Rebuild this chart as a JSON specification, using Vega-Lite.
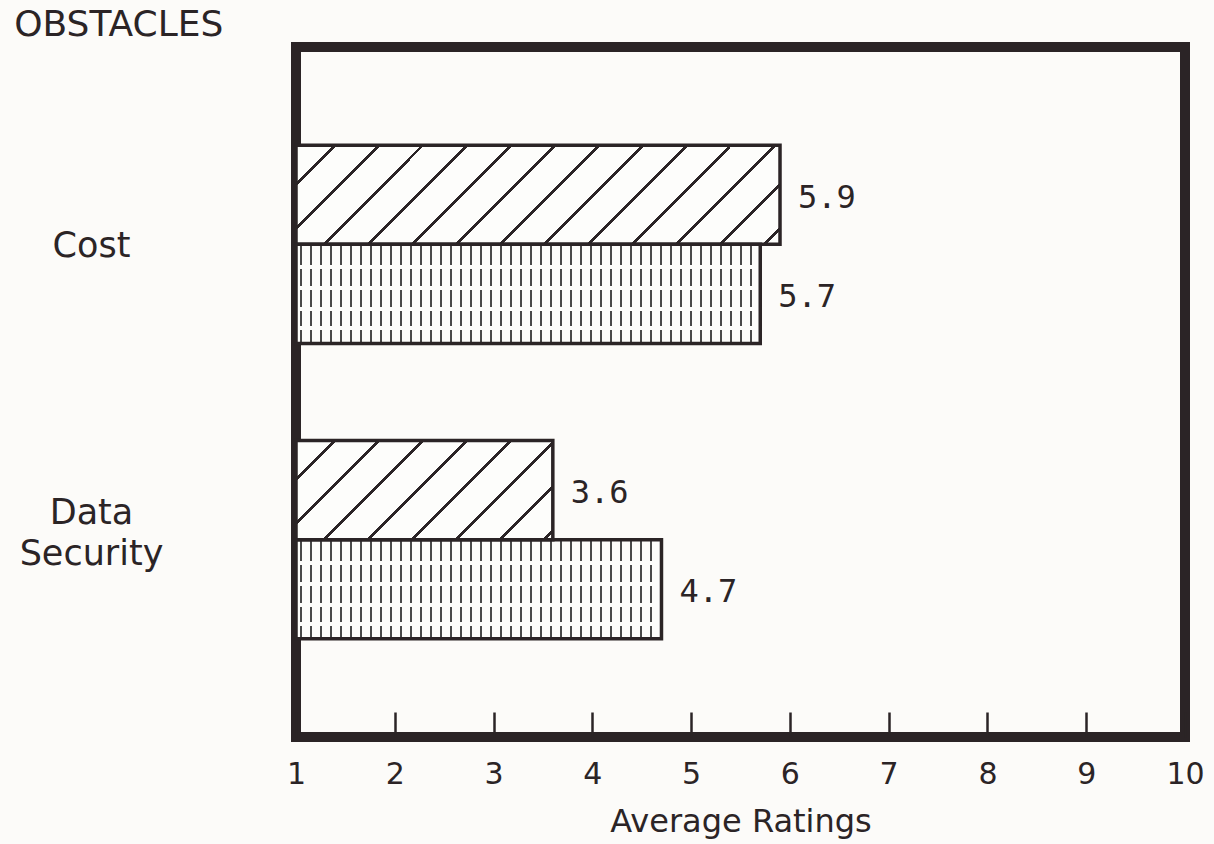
{
  "$schema": "https://vega.github.io/schema/vega-lite/v6.json",
  "width": 889,
  "height": 690,
  "autosize": {"type": "none"},
  "padding": {"left": 296, "top": 47, "right": 29, "bottom": 107},
  "background": "#fcfbf9",
  "title": {"text": "OBSTACLES", "anchor": "start", "frame": "bounds", "font": "DejaVu Sans", "fontSize": 36, "fontWeight": "normal", "color": "#2b2426", "offset": 3, "dx": -5},
  "config": {
    "view": {"stroke": "#2b2426", "strokeWidth": 10},
    "axis": {"grid": false, "domain": false, "labelColor": "#2b2426", "titleColor": "#2b2426", "labelFont": "DejaVu Sans", "titleFont": "DejaVu Sans", "titleFontWeight": "normal"}
  },
  "data": {"values": [
    {"obstacle": "Cost", "group": "A", "rating": 5.9},
    {"obstacle": "Cost", "group": "B", "rating": 5.7},
    {"obstacle": "Data Security", "group": "A", "rating": 3.6},
    {"obstacle": "Data Security", "group": "B", "rating": 4.7}
  ]},
  "encoding": {
    "y": {"field": "obstacle", "type": "nominal", "sort": ["Cost", "Data Security"],
      "scale": {"paddingInner": 0, "paddingOuter": 0.168},
      "axis": {"title": null, "ticks": false, "labelFontSize": 35, "labelAlign": "center", "labelBaseline": "middle", "labelPadding": 205, "labelLineHeight": 41,
        "labelOffset": {"condition": {"test": "datum.value == 'Data Security'", "value": -27}, "value": 2},
        "labelExpr": "datum.label == 'Data Security' ? ['Data', 'Security'] : datum.label"}},
    "yOffset": {"field": "group", "type": "nominal", "scale": {"paddingInner": 0, "paddingOuter": 0.49}},
    "x": {"field": "rating", "type": "quantitative", "scale": {"domain": [1, 10], "zero": false, "nice": false},
      "axis": {"values": [1, 2, 3, 4, 5, 6, 7, 8, 9, 10], "title": "Average Ratings", "titleFontSize": 32, "titlePadding": 17, "labelFontSize": 30, "labelFlush": false, "labelPadding": 47, "tickSize": -25, "tickWidth": 2.5, "tickColor": "#2b2426"}}
  },
  "layer": [
    {
      "mark": {"type": "bar", "strokeWidth": 0},
      "encoding": {
        "x2": {"datum": 1},
        "fill": {
          "condition": [
            {"test": "datum.obstacle == 'Cost' && datum.group == 'A'", "value": {"gradient": "linear", "x1": 0, "y1": 0, "x2": 1.1562, "y2": 0.2365, "stops": [
              {"offset": 0, "color": "#fdfdfb"},
              {"offset": 0.0638, "color": "#fdfdfb"}, {"offset": 0.0638, "color": "#2b2426"}, {"offset": 0.0700, "color": "#2b2426"}, {"offset": 0.0700, "color": "#fdfdfb"},
              {"offset": 0.1393, "color": "#fdfdfb"}, {"offset": 0.1393, "color": "#2b2426"}, {"offset": 0.1455, "color": "#2b2426"}, {"offset": 0.1455, "color": "#fdfdfb"},
              {"offset": 0.2147, "color": "#fdfdfb"}, {"offset": 0.2147, "color": "#2b2426"}, {"offset": 0.2209, "color": "#2b2426"}, {"offset": 0.2209, "color": "#fdfdfb"},
              {"offset": 0.2902, "color": "#fdfdfb"}, {"offset": 0.2902, "color": "#2b2426"}, {"offset": 0.2964, "color": "#2b2426"}, {"offset": 0.2964, "color": "#fdfdfb"},
              {"offset": 0.3657, "color": "#fdfdfb"}, {"offset": 0.3657, "color": "#2b2426"}, {"offset": 0.3719, "color": "#2b2426"}, {"offset": 0.3719, "color": "#fdfdfb"},
              {"offset": 0.4412, "color": "#fdfdfb"}, {"offset": 0.4412, "color": "#2b2426"}, {"offset": 0.4474, "color": "#2b2426"}, {"offset": 0.4474, "color": "#fdfdfb"},
              {"offset": 0.5166, "color": "#fdfdfb"}, {"offset": 0.5166, "color": "#2b2426"}, {"offset": 0.5228, "color": "#2b2426"}, {"offset": 0.5228, "color": "#fdfdfb"},
              {"offset": 0.5921, "color": "#fdfdfb"}, {"offset": 0.5921, "color": "#2b2426"}, {"offset": 0.5983, "color": "#2b2426"}, {"offset": 0.5983, "color": "#fdfdfb"},
              {"offset": 0.6676, "color": "#fdfdfb"}, {"offset": 0.6676, "color": "#2b2426"}, {"offset": 0.6738, "color": "#2b2426"}, {"offset": 0.6738, "color": "#fdfdfb"},
              {"offset": 0.7430, "color": "#fdfdfb"}, {"offset": 0.7430, "color": "#2b2426"}, {"offset": 0.7492, "color": "#2b2426"}, {"offset": 0.7492, "color": "#fdfdfb"},
              {"offset": 0.8185, "color": "#fdfdfb"}, {"offset": 0.8185, "color": "#2b2426"}, {"offset": 0.8247, "color": "#2b2426"}, {"offset": 0.8247, "color": "#fdfdfb"},
              {"offset": 0.8940, "color": "#fdfdfb"}, {"offset": 0.8940, "color": "#2b2426"}, {"offset": 0.9002, "color": "#2b2426"}, {"offset": 0.9002, "color": "#fdfdfb"},
              {"offset": 0.9695, "color": "#fdfdfb"}, {"offset": 0.9695, "color": "#2b2426"}, {"offset": 0.9757, "color": "#2b2426"}, {"offset": 0.9757, "color": "#fdfdfb"},
              {"offset": 1, "color": "#fdfdfb"}
            ]}},
            {"test": "datum.obstacle == 'Data Security' && datum.group == 'A'", "value": {"gradient": "linear", "x1": 0, "y1": 0, "x2": 1.2063, "y2": 0.4650, "stops": [
              {"offset": 0, "color": "#fdfdfb"},
              {"offset": 0.1045, "color": "#fdfdfb"}, {"offset": 0.1045, "color": "#2b2426"}, {"offset": 0.1147, "color": "#2b2426"}, {"offset": 0.1147, "color": "#fdfdfb"},
              {"offset": 0.2282, "color": "#fdfdfb"}, {"offset": 0.2282, "color": "#2b2426"}, {"offset": 0.2384, "color": "#2b2426"}, {"offset": 0.2384, "color": "#fdfdfb"},
              {"offset": 0.3518, "color": "#fdfdfb"}, {"offset": 0.3518, "color": "#2b2426"}, {"offset": 0.3620, "color": "#2b2426"}, {"offset": 0.3620, "color": "#fdfdfb"},
              {"offset": 0.4755, "color": "#fdfdfb"}, {"offset": 0.4755, "color": "#2b2426"}, {"offset": 0.4857, "color": "#2b2426"}, {"offset": 0.4857, "color": "#fdfdfb"},
              {"offset": 0.5992, "color": "#fdfdfb"}, {"offset": 0.5992, "color": "#2b2426"}, {"offset": 0.6094, "color": "#2b2426"}, {"offset": 0.6094, "color": "#fdfdfb"},
              {"offset": 0.7228, "color": "#fdfdfb"}, {"offset": 0.7228, "color": "#2b2426"}, {"offset": 0.7330, "color": "#2b2426"}, {"offset": 0.7330, "color": "#fdfdfb"},
              {"offset": 0.8465, "color": "#fdfdfb"}, {"offset": 0.8465, "color": "#2b2426"}, {"offset": 0.8567, "color": "#2b2426"}, {"offset": 0.8567, "color": "#fdfdfb"},
              {"offset": 0.9702, "color": "#fdfdfb"}, {"offset": 0.9702, "color": "#2b2426"}, {"offset": 0.9804, "color": "#2b2426"}, {"offset": 0.9804, "color": "#fdfdfb"},
              {"offset": 1, "color": "#fdfdfb"}
            ]}},
            {"test": "datum.obstacle == 'Cost' && datum.group == 'B'", "value": {"gradient": "linear", "x1": 0, "y1": 0, "x2": 1, "y2": 0, "stops": [
              {"offset": 0, "color": "#fdfdfb"},
              {"offset": 0.0091, "color": "#fdfdfb"}, {"offset": 0.0091, "color": "#4a4a4a"}, {"offset": 0.0125, "color": "#4a4a4a"}, {"offset": 0.0125, "color": "#fdfdfb"},
              {"offset": 0.0306, "color": "#fdfdfb"}, {"offset": 0.0306, "color": "#4a4a4a"}, {"offset": 0.0340, "color": "#4a4a4a"}, {"offset": 0.0340, "color": "#fdfdfb"},
              {"offset": 0.0521, "color": "#fdfdfb"}, {"offset": 0.0521, "color": "#4a4a4a"}, {"offset": 0.0555, "color": "#4a4a4a"}, {"offset": 0.0555, "color": "#fdfdfb"},
              {"offset": 0.0737, "color": "#fdfdfb"}, {"offset": 0.0737, "color": "#4a4a4a"}, {"offset": 0.0771, "color": "#4a4a4a"}, {"offset": 0.0771, "color": "#fdfdfb"},
              {"offset": 0.0952, "color": "#fdfdfb"}, {"offset": 0.0952, "color": "#4a4a4a"}, {"offset": 0.0986, "color": "#4a4a4a"}, {"offset": 0.0986, "color": "#fdfdfb"},
              {"offset": 0.1168, "color": "#fdfdfb"}, {"offset": 0.1168, "color": "#4a4a4a"}, {"offset": 0.1202, "color": "#4a4a4a"}, {"offset": 0.1202, "color": "#fdfdfb"},
              {"offset": 0.1383, "color": "#fdfdfb"}, {"offset": 0.1383, "color": "#4a4a4a"}, {"offset": 0.1417, "color": "#4a4a4a"}, {"offset": 0.1417, "color": "#fdfdfb"},
              {"offset": 0.1598, "color": "#fdfdfb"}, {"offset": 0.1598, "color": "#4a4a4a"}, {"offset": 0.1632, "color": "#4a4a4a"}, {"offset": 0.1632, "color": "#fdfdfb"},
              {"offset": 0.1814, "color": "#fdfdfb"}, {"offset": 0.1814, "color": "#4a4a4a"}, {"offset": 0.1848, "color": "#4a4a4a"}, {"offset": 0.1848, "color": "#fdfdfb"},
              {"offset": 0.2029, "color": "#fdfdfb"}, {"offset": 0.2029, "color": "#4a4a4a"}, {"offset": 0.2063, "color": "#4a4a4a"}, {"offset": 0.2063, "color": "#fdfdfb"},
              {"offset": 0.2245, "color": "#fdfdfb"}, {"offset": 0.2245, "color": "#4a4a4a"}, {"offset": 0.2279, "color": "#4a4a4a"}, {"offset": 0.2279, "color": "#fdfdfb"},
              {"offset": 0.2460, "color": "#fdfdfb"}, {"offset": 0.2460, "color": "#4a4a4a"}, {"offset": 0.2494, "color": "#4a4a4a"}, {"offset": 0.2494, "color": "#fdfdfb"},
              {"offset": 0.2675, "color": "#fdfdfb"}, {"offset": 0.2675, "color": "#4a4a4a"}, {"offset": 0.2709, "color": "#4a4a4a"}, {"offset": 0.2709, "color": "#fdfdfb"},
              {"offset": 0.2891, "color": "#fdfdfb"}, {"offset": 0.2891, "color": "#4a4a4a"}, {"offset": 0.2925, "color": "#4a4a4a"}, {"offset": 0.2925, "color": "#fdfdfb"},
              {"offset": 0.3106, "color": "#fdfdfb"}, {"offset": 0.3106, "color": "#4a4a4a"}, {"offset": 0.3140, "color": "#4a4a4a"}, {"offset": 0.3140, "color": "#fdfdfb"},
              {"offset": 0.3322, "color": "#fdfdfb"}, {"offset": 0.3322, "color": "#4a4a4a"}, {"offset": 0.3356, "color": "#4a4a4a"}, {"offset": 0.3356, "color": "#fdfdfb"},
              {"offset": 0.3537, "color": "#fdfdfb"}, {"offset": 0.3537, "color": "#4a4a4a"}, {"offset": 0.3571, "color": "#4a4a4a"}, {"offset": 0.3571, "color": "#fdfdfb"},
              {"offset": 0.3752, "color": "#fdfdfb"}, {"offset": 0.3752, "color": "#4a4a4a"}, {"offset": 0.3786, "color": "#4a4a4a"}, {"offset": 0.3786, "color": "#fdfdfb"},
              {"offset": 0.3968, "color": "#fdfdfb"}, {"offset": 0.3968, "color": "#4a4a4a"}, {"offset": 0.4002, "color": "#4a4a4a"}, {"offset": 0.4002, "color": "#fdfdfb"},
              {"offset": 0.4183, "color": "#fdfdfb"}, {"offset": 0.4183, "color": "#4a4a4a"}, {"offset": 0.4217, "color": "#4a4a4a"}, {"offset": 0.4217, "color": "#fdfdfb"},
              {"offset": 0.4399, "color": "#fdfdfb"}, {"offset": 0.4399, "color": "#4a4a4a"}, {"offset": 0.4433, "color": "#4a4a4a"}, {"offset": 0.4433, "color": "#fdfdfb"},
              {"offset": 0.4614, "color": "#fdfdfb"}, {"offset": 0.4614, "color": "#4a4a4a"}, {"offset": 0.4648, "color": "#4a4a4a"}, {"offset": 0.4648, "color": "#fdfdfb"},
              {"offset": 0.4829, "color": "#fdfdfb"}, {"offset": 0.4829, "color": "#4a4a4a"}, {"offset": 0.4863, "color": "#4a4a4a"}, {"offset": 0.4863, "color": "#fdfdfb"},
              {"offset": 0.5045, "color": "#fdfdfb"}, {"offset": 0.5045, "color": "#4a4a4a"}, {"offset": 0.5079, "color": "#4a4a4a"}, {"offset": 0.5079, "color": "#fdfdfb"},
              {"offset": 0.5260, "color": "#fdfdfb"}, {"offset": 0.5260, "color": "#4a4a4a"}, {"offset": 0.5294, "color": "#4a4a4a"}, {"offset": 0.5294, "color": "#fdfdfb"},
              {"offset": 0.5476, "color": "#fdfdfb"}, {"offset": 0.5476, "color": "#4a4a4a"}, {"offset": 0.5510, "color": "#4a4a4a"}, {"offset": 0.5510, "color": "#fdfdfb"},
              {"offset": 0.5691, "color": "#fdfdfb"}, {"offset": 0.5691, "color": "#4a4a4a"}, {"offset": 0.5725, "color": "#4a4a4a"}, {"offset": 0.5725, "color": "#fdfdfb"},
              {"offset": 0.5906, "color": "#fdfdfb"}, {"offset": 0.5906, "color": "#4a4a4a"}, {"offset": 0.5940, "color": "#4a4a4a"}, {"offset": 0.5940, "color": "#fdfdfb"},
              {"offset": 0.6122, "color": "#fdfdfb"}, {"offset": 0.6122, "color": "#4a4a4a"}, {"offset": 0.6156, "color": "#4a4a4a"}, {"offset": 0.6156, "color": "#fdfdfb"},
              {"offset": 0.6337, "color": "#fdfdfb"}, {"offset": 0.6337, "color": "#4a4a4a"}, {"offset": 0.6371, "color": "#4a4a4a"}, {"offset": 0.6371, "color": "#fdfdfb"},
              {"offset": 0.6553, "color": "#fdfdfb"}, {"offset": 0.6553, "color": "#4a4a4a"}, {"offset": 0.6587, "color": "#4a4a4a"}, {"offset": 0.6587, "color": "#fdfdfb"},
              {"offset": 0.6768, "color": "#fdfdfb"}, {"offset": 0.6768, "color": "#4a4a4a"}, {"offset": 0.6802, "color": "#4a4a4a"}, {"offset": 0.6802, "color": "#fdfdfb"},
              {"offset": 0.6983, "color": "#fdfdfb"}, {"offset": 0.6983, "color": "#4a4a4a"}, {"offset": 0.7017, "color": "#4a4a4a"}, {"offset": 0.7017, "color": "#fdfdfb"},
              {"offset": 0.7199, "color": "#fdfdfb"}, {"offset": 0.7199, "color": "#4a4a4a"}, {"offset": 0.7233, "color": "#4a4a4a"}, {"offset": 0.7233, "color": "#fdfdfb"},
              {"offset": 0.7414, "color": "#fdfdfb"}, {"offset": 0.7414, "color": "#4a4a4a"}, {"offset": 0.7448, "color": "#4a4a4a"}, {"offset": 0.7448, "color": "#fdfdfb"},
              {"offset": 0.7630, "color": "#fdfdfb"}, {"offset": 0.7630, "color": "#4a4a4a"}, {"offset": 0.7664, "color": "#4a4a4a"}, {"offset": 0.7664, "color": "#fdfdfb"},
              {"offset": 0.7845, "color": "#fdfdfb"}, {"offset": 0.7845, "color": "#4a4a4a"}, {"offset": 0.7879, "color": "#4a4a4a"}, {"offset": 0.7879, "color": "#fdfdfb"},
              {"offset": 0.8060, "color": "#fdfdfb"}, {"offset": 0.8060, "color": "#4a4a4a"}, {"offset": 0.8094, "color": "#4a4a4a"}, {"offset": 0.8094, "color": "#fdfdfb"},
              {"offset": 0.8276, "color": "#fdfdfb"}, {"offset": 0.8276, "color": "#4a4a4a"}, {"offset": 0.8310, "color": "#4a4a4a"}, {"offset": 0.8310, "color": "#fdfdfb"},
              {"offset": 0.8491, "color": "#fdfdfb"}, {"offset": 0.8491, "color": "#4a4a4a"}, {"offset": 0.8525, "color": "#4a4a4a"}, {"offset": 0.8525, "color": "#fdfdfb"},
              {"offset": 0.8707, "color": "#fdfdfb"}, {"offset": 0.8707, "color": "#4a4a4a"}, {"offset": 0.8741, "color": "#4a4a4a"}, {"offset": 0.8741, "color": "#fdfdfb"},
              {"offset": 0.8922, "color": "#fdfdfb"}, {"offset": 0.8922, "color": "#4a4a4a"}, {"offset": 0.8956, "color": "#4a4a4a"}, {"offset": 0.8956, "color": "#fdfdfb"},
              {"offset": 0.9137, "color": "#fdfdfb"}, {"offset": 0.9137, "color": "#4a4a4a"}, {"offset": 0.9171, "color": "#4a4a4a"}, {"offset": 0.9171, "color": "#fdfdfb"},
              {"offset": 0.9353, "color": "#fdfdfb"}, {"offset": 0.9353, "color": "#4a4a4a"}, {"offset": 0.9387, "color": "#4a4a4a"}, {"offset": 0.9387, "color": "#fdfdfb"},
              {"offset": 0.9568, "color": "#fdfdfb"}, {"offset": 0.9568, "color": "#4a4a4a"}, {"offset": 0.9602, "color": "#4a4a4a"}, {"offset": 0.9602, "color": "#fdfdfb"},
              {"offset": 0.9784, "color": "#fdfdfb"}, {"offset": 0.9784, "color": "#4a4a4a"}, {"offset": 0.9818, "color": "#4a4a4a"}, {"offset": 0.9818, "color": "#fdfdfb"},
              {"offset": 1, "color": "#fdfdfb"}
            ]}},
            {"test": "datum.obstacle == 'Data Security' && datum.group == 'B'", "value": {"gradient": "linear", "x1": 0, "y1": 0, "x2": 1, "y2": 0, "stops": [
              {"offset": 0, "color": "#fdfdfb"},
              {"offset": 0.0115, "color": "#fdfdfb"}, {"offset": 0.0115, "color": "#4a4a4a"}, {"offset": 0.0159, "color": "#4a4a4a"}, {"offset": 0.0159, "color": "#fdfdfb"},
              {"offset": 0.0388, "color": "#fdfdfb"}, {"offset": 0.0388, "color": "#4a4a4a"}, {"offset": 0.0432, "color": "#4a4a4a"}, {"offset": 0.0432, "color": "#fdfdfb"},
              {"offset": 0.0662, "color": "#fdfdfb"}, {"offset": 0.0662, "color": "#4a4a4a"}, {"offset": 0.0706, "color": "#4a4a4a"}, {"offset": 0.0706, "color": "#fdfdfb"},
              {"offset": 0.0936, "color": "#fdfdfb"}, {"offset": 0.0936, "color": "#4a4a4a"}, {"offset": 0.0980, "color": "#4a4a4a"}, {"offset": 0.0980, "color": "#fdfdfb"},
              {"offset": 0.1209, "color": "#fdfdfb"}, {"offset": 0.1209, "color": "#4a4a4a"}, {"offset": 0.1253, "color": "#4a4a4a"}, {"offset": 0.1253, "color": "#fdfdfb"},
              {"offset": 0.1483, "color": "#fdfdfb"}, {"offset": 0.1483, "color": "#4a4a4a"}, {"offset": 0.1527, "color": "#4a4a4a"}, {"offset": 0.1527, "color": "#fdfdfb"},
              {"offset": 0.1757, "color": "#fdfdfb"}, {"offset": 0.1757, "color": "#4a4a4a"}, {"offset": 0.1801, "color": "#4a4a4a"}, {"offset": 0.1801, "color": "#fdfdfb"},
              {"offset": 0.2030, "color": "#fdfdfb"}, {"offset": 0.2030, "color": "#4a4a4a"}, {"offset": 0.2074, "color": "#4a4a4a"}, {"offset": 0.2074, "color": "#fdfdfb"},
              {"offset": 0.2304, "color": "#fdfdfb"}, {"offset": 0.2304, "color": "#4a4a4a"}, {"offset": 0.2348, "color": "#4a4a4a"}, {"offset": 0.2348, "color": "#fdfdfb"},
              {"offset": 0.2577, "color": "#fdfdfb"}, {"offset": 0.2577, "color": "#4a4a4a"}, {"offset": 0.2621, "color": "#4a4a4a"}, {"offset": 0.2621, "color": "#fdfdfb"},
              {"offset": 0.2851, "color": "#fdfdfb"}, {"offset": 0.2851, "color": "#4a4a4a"}, {"offset": 0.2895, "color": "#4a4a4a"}, {"offset": 0.2895, "color": "#fdfdfb"},
              {"offset": 0.3125, "color": "#fdfdfb"}, {"offset": 0.3125, "color": "#4a4a4a"}, {"offset": 0.3169, "color": "#4a4a4a"}, {"offset": 0.3169, "color": "#fdfdfb"},
              {"offset": 0.3398, "color": "#fdfdfb"}, {"offset": 0.3398, "color": "#4a4a4a"}, {"offset": 0.3442, "color": "#4a4a4a"}, {"offset": 0.3442, "color": "#fdfdfb"},
              {"offset": 0.3672, "color": "#fdfdfb"}, {"offset": 0.3672, "color": "#4a4a4a"}, {"offset": 0.3716, "color": "#4a4a4a"}, {"offset": 0.3716, "color": "#fdfdfb"},
              {"offset": 0.3945, "color": "#fdfdfb"}, {"offset": 0.3945, "color": "#4a4a4a"}, {"offset": 0.3989, "color": "#4a4a4a"}, {"offset": 0.3989, "color": "#fdfdfb"},
              {"offset": 0.4219, "color": "#fdfdfb"}, {"offset": 0.4219, "color": "#4a4a4a"}, {"offset": 0.4263, "color": "#4a4a4a"}, {"offset": 0.4263, "color": "#fdfdfb"},
              {"offset": 0.4493, "color": "#fdfdfb"}, {"offset": 0.4493, "color": "#4a4a4a"}, {"offset": 0.4537, "color": "#4a4a4a"}, {"offset": 0.4537, "color": "#fdfdfb"},
              {"offset": 0.4766, "color": "#fdfdfb"}, {"offset": 0.4766, "color": "#4a4a4a"}, {"offset": 0.4810, "color": "#4a4a4a"}, {"offset": 0.4810, "color": "#fdfdfb"},
              {"offset": 0.5040, "color": "#fdfdfb"}, {"offset": 0.5040, "color": "#4a4a4a"}, {"offset": 0.5084, "color": "#4a4a4a"}, {"offset": 0.5084, "color": "#fdfdfb"},
              {"offset": 0.5313, "color": "#fdfdfb"}, {"offset": 0.5313, "color": "#4a4a4a"}, {"offset": 0.5357, "color": "#4a4a4a"}, {"offset": 0.5357, "color": "#fdfdfb"},
              {"offset": 0.5587, "color": "#fdfdfb"}, {"offset": 0.5587, "color": "#4a4a4a"}, {"offset": 0.5631, "color": "#4a4a4a"}, {"offset": 0.5631, "color": "#fdfdfb"},
              {"offset": 0.5861, "color": "#fdfdfb"}, {"offset": 0.5861, "color": "#4a4a4a"}, {"offset": 0.5905, "color": "#4a4a4a"}, {"offset": 0.5905, "color": "#fdfdfb"},
              {"offset": 0.6134, "color": "#fdfdfb"}, {"offset": 0.6134, "color": "#4a4a4a"}, {"offset": 0.6178, "color": "#4a4a4a"}, {"offset": 0.6178, "color": "#fdfdfb"},
              {"offset": 0.6408, "color": "#fdfdfb"}, {"offset": 0.6408, "color": "#4a4a4a"}, {"offset": 0.6452, "color": "#4a4a4a"}, {"offset": 0.6452, "color": "#fdfdfb"},
              {"offset": 0.6682, "color": "#fdfdfb"}, {"offset": 0.6682, "color": "#4a4a4a"}, {"offset": 0.6726, "color": "#4a4a4a"}, {"offset": 0.6726, "color": "#fdfdfb"},
              {"offset": 0.6955, "color": "#fdfdfb"}, {"offset": 0.6955, "color": "#4a4a4a"}, {"offset": 0.6999, "color": "#4a4a4a"}, {"offset": 0.6999, "color": "#fdfdfb"},
              {"offset": 0.7229, "color": "#fdfdfb"}, {"offset": 0.7229, "color": "#4a4a4a"}, {"offset": 0.7273, "color": "#4a4a4a"}, {"offset": 0.7273, "color": "#fdfdfb"},
              {"offset": 0.7502, "color": "#fdfdfb"}, {"offset": 0.7502, "color": "#4a4a4a"}, {"offset": 0.7546, "color": "#4a4a4a"}, {"offset": 0.7546, "color": "#fdfdfb"},
              {"offset": 0.7776, "color": "#fdfdfb"}, {"offset": 0.7776, "color": "#4a4a4a"}, {"offset": 0.7820, "color": "#4a4a4a"}, {"offset": 0.7820, "color": "#fdfdfb"},
              {"offset": 0.8050, "color": "#fdfdfb"}, {"offset": 0.8050, "color": "#4a4a4a"}, {"offset": 0.8094, "color": "#4a4a4a"}, {"offset": 0.8094, "color": "#fdfdfb"},
              {"offset": 0.8323, "color": "#fdfdfb"}, {"offset": 0.8323, "color": "#4a4a4a"}, {"offset": 0.8367, "color": "#4a4a4a"}, {"offset": 0.8367, "color": "#fdfdfb"},
              {"offset": 0.8597, "color": "#fdfdfb"}, {"offset": 0.8597, "color": "#4a4a4a"}, {"offset": 0.8641, "color": "#4a4a4a"}, {"offset": 0.8641, "color": "#fdfdfb"},
              {"offset": 0.8870, "color": "#fdfdfb"}, {"offset": 0.8870, "color": "#4a4a4a"}, {"offset": 0.8914, "color": "#4a4a4a"}, {"offset": 0.8914, "color": "#fdfdfb"},
              {"offset": 0.9144, "color": "#fdfdfb"}, {"offset": 0.9144, "color": "#4a4a4a"}, {"offset": 0.9188, "color": "#4a4a4a"}, {"offset": 0.9188, "color": "#fdfdfb"},
              {"offset": 0.9418, "color": "#fdfdfb"}, {"offset": 0.9418, "color": "#4a4a4a"}, {"offset": 0.9462, "color": "#4a4a4a"}, {"offset": 0.9462, "color": "#fdfdfb"},
              {"offset": 0.9691, "color": "#fdfdfb"}, {"offset": 0.9691, "color": "#4a4a4a"}, {"offset": 0.9735, "color": "#4a4a4a"}, {"offset": 0.9735, "color": "#fdfdfb"},
              {"offset": 1, "color": "#fdfdfb"}
            ]}}
          ],
          "value": "#fdfdfb"
        }
      }
    },
    {
      "mark": {"type": "bar", "strokeWidth": 0},
      "encoding": {
        "x2": {"datum": 1},
        "fill": {
          "condition": {"test": "datum.group == 'B'", "value": {"gradient": "linear", "x1": 0, "y1": 0, "x2": 0, "y2": 1, "stops": [
            {"offset": 0, "color": "rgba(253,253,251,0)"},
            {"offset": 0.2121, "color": "rgba(253,253,251,0)"}, {"offset": 0.2121, "color": "#fdfdfb"}, {"offset": 0.2525, "color": "#fdfdfb"}, {"offset": 0.2525, "color": "rgba(253,253,251,0)"},
            {"offset": 0.4242, "color": "rgba(253,253,251,0)"}, {"offset": 0.4242, "color": "#fdfdfb"}, {"offset": 0.4646, "color": "#fdfdfb"}, {"offset": 0.4646, "color": "rgba(253,253,251,0)"},
            {"offset": 0.6364, "color": "rgba(253,253,251,0)"}, {"offset": 0.6364, "color": "#fdfdfb"}, {"offset": 0.6768, "color": "#fdfdfb"}, {"offset": 0.6768, "color": "rgba(253,253,251,0)"},
            {"offset": 0.8283, "color": "rgba(253,253,251,0)"}, {"offset": 0.8283, "color": "#fdfdfb"}, {"offset": 0.8687, "color": "#fdfdfb"}, {"offset": 0.8687, "color": "rgba(253,253,251,0)"},
            {"offset": 1, "color": "rgba(253,253,251,0)"}
          ]}},
          "value": null
        }
      }
    },
    {
      "mark": {"type": "bar", "filled": false, "stroke": "#2b2426", "strokeWidth": 3.5},
      "encoding": {
        "x2": {"datum": 1}
      }
    },
    {
      "mark": {"type": "text", "align": "left", "baseline": "middle", "dx": 18, "dy": 3, "font": "DejaVu Sans Mono", "fontSize": 32, "color": "#2b2426"},
      "encoding": {
        "text": {"field": "rating", "type": "quantitative", "format": ".1f"}
      }
    }
  ]
}
